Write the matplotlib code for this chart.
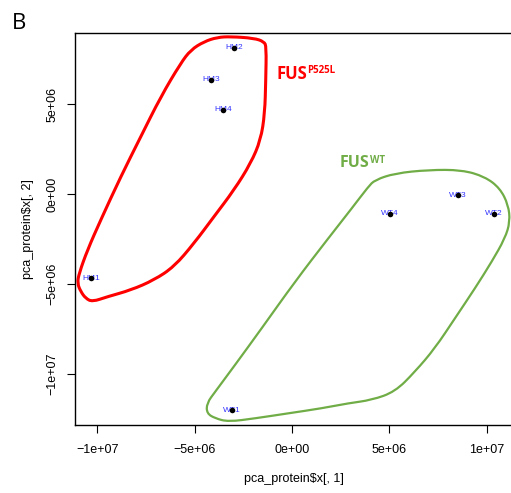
import matplotlib
import matplotlib.pyplot as plt
from matplotlib.path import Path
from matplotlib.patches import PathPatch

matplotlib.use("Agg")

# PCA-koordinater for hver prøve (afl. fra figuren)
samples = ["HM1", "HM2", "HM3", "HM4", "WT1", "WT2", "WT3", "WT4"]
pc1 = [-10.32e6, -2.98e6, -4.16e6, -3.54e6, -3.08e6, 10.37e6, 8.53e6, 5.03e6]
pc2 = [-4.68e6, 8.13e6, 6.35e6, 4.68e6, -12.03e6, -1.11e6, -0.06e6, -1.11e6]

# håndtegnede omrids omkring grupperne (i millioner)
red_x = [-3.15, -1.95, -1.44, -1.32, -1.35, -1.40, -1.61, -2.12, -2.98, -4.01,
         -5.03, -6.06, -7.09, -8.28, -9.49, -10.26, -10.60, -10.85, -11.03,
         -10.94, -10.51, -9.83, -8.80, -7.77, -6.74, -5.72, -5.20, -4.52, -3.84]
red_y = [8.76, 8.67, 8.48, 8.20, 6.35, 4.49, 3.01, 1.71, 0.22, -1.26,
         -2.74, -4.05, -4.79, -5.35, -5.72, -6.00, -5.81, -5.44, -4.97,
         -4.42, -3.12, -1.45, 0.96, 3.19, 5.42, 7.28, 8.02, 8.48, 8.72]
green_x = [4.26, 5.29, 7.00, 8.72, 9.91, 10.68, 11.11, 11.20, 10.94, 10.26,
           9.40, 8.37, 7.34, 6.32, 5.29, 4.09, 2.89, 1.53, -0.19, -1.90,
           -3.27, -3.95, -4.38, -4.38, -3.95, -2.93, -1.56, 0.15, 1.86, 3.07, 3.92]
green_y = [0.78, 1.15, 1.34, 1.34, 0.96, 0.32, -0.61, -1.54, -2.47, -3.77,
           -5.25, -6.92, -8.59, -9.89, -11.01, -11.47, -11.65, -11.93, -12.21, -12.49,
           -12.68, -12.49, -12.21, -11.65, -11.01, -9.52, -7.48, -4.88, -2.47, -0.80, 0.41]

xticks = [-1e7, -5e6, 0, 5e6, 1e7]
xtick_labels = ["\u22121e+07", "\u22125e+06", "0e+00", "5e+06", "1e+07"]
yticks = [-1e7, -5e6, 0, 5e6]
ytick_labels = ["\u22121e+07", "\u22125e+06", "0e+00", "5e+06"]

RED = "#ff0000"
GREEN = "#70ad47"

plt.rcParams["font.family"] = ["Liberation Sans", "DejaVu Sans"]


def glat_omrids(xs, ys):
    """Lukket, blød kurve: kvadratiske Bezier-stykker gennem midtpunkterne."""
    pts = [(x * 1e6, y * 1e6) for x, y in zip(xs, ys)]
    n = len(pts)
    mid = [((pts[i][0] + pts[(i + 1) % n][0]) / 2, (pts[i][1] + pts[(i + 1) % n][1]) / 2)
           for i in range(n)]
    verts = [mid[0]]
    codes = [Path.MOVETO]
    for i in range(1, n + 1):
        verts += [pts[i % n], mid[i % n]]
        codes += [Path.CURVE3, Path.CURVE3]
    return Path(verts, codes)


fig = plt.figure(figsize=(5.11, 4.93), dpi=100)
ax = fig.add_axes([75 / 511, 68 / 493, 437 / 511, 392 / 493])
ax.set_xlim(-11.15e6, 11.3e6)
ax.set_ylim(-12.86e6, 8.96e6)

# omrids
ax.add_patch(PathPatch(glat_omrids(red_x, red_y), fill=False, edgecolor=RED, lw=2.2, zorder=2))
ax.add_patch(PathPatch(glat_omrids(green_x, green_y), fill=False, edgecolor=GREEN, lw=1.6, zorder=2))

# prøvenavne og punkter
for name, x, y in zip(samples, pc1, pc2):
    ax.text(x, y, name, color="#3333ff", fontsize=6, ha="center", va="center", zorder=3)
ax.scatter(pc1, pc2, s=16, color="black", zorder=4, linewidths=0)

# gruppenavne med hævet skrift
t1 = ax.text(-0.82e6, 6.40e6, "FUS", color=RED, fontsize=12, fontweight="bold",
             family="Open Sans", ha="left", va="baseline")
ax.annotate("P525L", xy=(1, 1), xycoords=t1, xytext=(0.5, 0.0), textcoords="offset points",
            color=RED, fontsize=7, fontweight="bold", family="Open Sans", ha="left", va="top")
t2 = ax.text(2.45e6, 1.50e6, "FUS", color=GREEN, fontsize=11.5, fontweight="bold",
             family="Open Sans", ha="left", va="baseline")
ax.annotate("WT", xy=(1, 1), xycoords=t2, xytext=(0.5, 0.0), textcoords="offset points",
            color=GREEN, fontsize=7, fontweight="bold", family="Open Sans", ha="left", va="top")

ax.set_xticks(xticks)
ax.set_xticklabels(xtick_labels)
ax.set_yticks(yticks)
ax.set_yticklabels(ytick_labels, rotation=90, va="center")
ax.tick_params(direction="out", length=6, width=0.8, labelsize=9, pad=8)
ax.tick_params(axis="y", pad=6)
for s in ax.spines.values():
    s.set_linewidth(1.0)

ax.set_xlabel("pca_protein$x[, 1]", fontsize=9, labelpad=12)
ax.set_ylabel("pca_protein$x[, 2]", fontsize=9, labelpad=9)

fig.text(12 / 511, 1 - 29 / 493, "B", fontsize=16, family="Open Sans", ha="left", va="baseline")

fig.savefig("out.png", dpi=100)
